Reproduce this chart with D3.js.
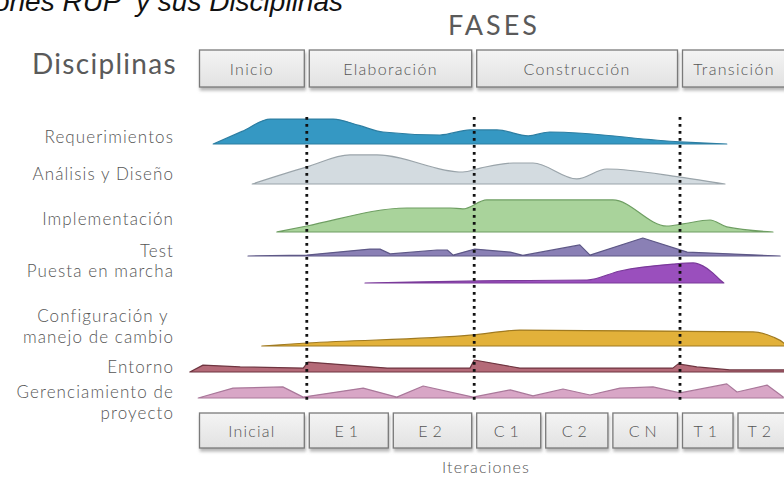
<!DOCTYPE html>
<html>
<head>
<meta charset="utf-8">
<script src="https://cdn.jsdelivr.net/npm/d3@7"></script>
<style>
  body { margin: 0; background: #fff; }
</style>
</head>
<body>
<div id="chart"></div>
<script>
// --- datos (tiempo 0..100, intensidad 0..10) ---
const disciplinas = ["Requerimientos", "Análisis y Diseño", "Implementación", "Test",
  "Puesta en marcha", "Configuración y \nmanejo de cambio", "Entorno", "Gerenciamiento de\nproyecto"];
const fases = ["Inicio", "Elaboración", "Construcción", "Transición"];
const iteraciones = ["Inicial", "E1", "E2", "C1", "C2", "CN", "T1", "T2"];
const hitos = [20.3, 48.2, 82.5];
const limitesFases = [2, 20.3, 48.2, 82.5, 100.5];
const limitesIter = [2, 20.3, 34.3, 48.2, 59.7, 70.9, 82.5, 91.75, 100.5];

const requerimientos = [[4.7,0],[9.5,4.2],[14.2,8.3],[24.7,8.3],[29,6.2],[33,4],[42.5,3],[47.5,4.7],[52,4.7],[57.2,2.7],[60.8,4],[82.5,0.7],[90.3,0]];
const analisis = [[11.2,0],[20.3,5.7],[27.5,9.7],[32,9.7],[46.3,4],[49.2,5.3],[54.7,7],[58,7],[65.3,1.7],[70.3,5],[82.5,2.3],[90,0]];
const implementacion = [[15.3,0],[20.3,2],[37,8],[44.2,8],[46.3,7.7],[50.3,10.7],[71.3,10.7],[80.3,2],[83,2.7],[87.5,4],[90.3,1.7],[98,0]];
const test = [[10.5,0],[20.3,0.3],[30.8,2.3],[32.5,2.3],[34.2,0.7],[42,2],[43.7,2],[44.7,0.3],[48.3,2.3],[54.2,1.3],[56.3,0.2],[65.8,3.7],[67.5,0.3],[76.3,6],[83.7,1.3],[99.2,0]];
const puesta = [[30,0],[37.5,0.3],[49.2,0.7],[67,1],[72.5,4],[81.3,6.3],[84.7,6.7],[86.3,5.7],[88,3.3],[89.2,1],[89.8,0]];
const configuracion = [[12.8,0],[20.3,1],[48,3.7],[55.8,5.3],[94.7,4.7],[98,3],[99.8,1],[100.3,0]];
const entorno = [[0.8,0],[3,2.3],[9.2,1.7],[19.7,1.3],[20.5,3.3],[33.7,1.3],[47.5,1.3],[48.2,4],[55.8,1.3],[81.3,1.3],[82.2,2.7],[85.3,1.7],[90.8,0.7],[100.3,0.7]];
const gerenciamiento = [[2.2,0],[8,3.3],[16.3,3.7],[19.7,0.3],[29.7,3.3],[35.3,0.3],[39.7,4],[48,0.3],[54.2,2.7],[58,0.7],[63,3],[67.5,1],[72.5,3.3],[78,3.7],[82.5,1.7],[90.3,4.7],[92,2],[97,4.3],[99.7,0.3]];
const perfiles = [requerimientos, analisis, implementacion, test, puesta, configuracion, entorno, gerenciamiento];

// --- layout y estilos ---
const width = 784, height = 479;
const baseFila = [144, 184, 232, 256, 283, 346, 372, 398];
const labelY = [143, 180, 225, 257, 277, 322, 373, 398];
const rellenos = ["#3598c3", "#d3dbe0", "#a9d39b", "#8a80b5", "#9a4fbd", "#e2b13a", "#b46a78", "#d8a6c6"];
const bordes = ["#2d7ea2", "#9aa4aa", "#6e9e62", "#5e5887", "#7a3a9a", "#a07a20", "#6e3540", "#a9789a"];
const curvas = [d3.curveMonotoneX, d3.curveMonotoneX, d3.curveMonotoneX, d3.curveLinear,
  d3.curveMonotoneX, d3.curveMonotoneX, d3.curveLinear, d3.curveLinear];
const fuente = "Lato, 'Open Sans', sans-serif";

const x = d3.scaleLinear().domain([0, 100]).range([185, 785]);
const h = d3.scaleLinear().domain([0, 10]).range([0, 30]);

const svg = d3.select("#chart").append("svg")
    .attr("width", width)
    .attr("height", height);

const defs = svg.append("defs");
const grad = defs.append("linearGradient").attr("id", "caja").attr("x1", 0).attr("y1", 0).attr("x2", 0).attr("y2", 1);
grad.append("stop").attr("offset", "0%").attr("stop-color", "#f4f4f4");
grad.append("stop").attr("offset", "100%").attr("stop-color", "#e2e2e2");
defs.append("filter").attr("id", "sombra").attr("x", "-10%").attr("y", "-20%").attr("width", "120%").attr("height", "160%")
    .append("feDropShadow").attr("dx", 1).attr("dy", 3).attr("stdDeviation", 1.8)
    .attr("flood-color", "#888").attr("flood-opacity", 0.6);

// titulo (cortado arriba como en el original)
svg.append("text")
    .attr("x", 343).attr("y", 11)
    .attr("text-anchor", "end")
    .attr("font-family", "'Liberation Sans', Arial, sans-serif")
    .attr("font-style", "italic")
    .attr("font-size", 28)
    .attr("fill", "#111")
    .attr("xml:space", "preserve")
    .text("Fases e Iteraciones RUP  y sus Disciplinas");

svg.append("text")
    .attr("x", 494).attr("y", 35)
    .attr("text-anchor", "middle")
    .attr("font-family", fuente)
    .attr("font-size", 27)
    .attr("letter-spacing", 3)
    .attr("fill", "#5a5a5a")
    .text("FASES");

svg.append("text")
    .attr("x", 32).attr("y", 74)
    .attr("font-family", fuente)
    .attr("font-size", 28)
    .attr("letter-spacing", 1.3)
    .attr("fill", "#5a5a5a")
    .text("Disciplinas");

// cajas de fases e iteraciones
function cajas(nombres, limites, y0, alto, texto) {
    let g = svg.append("g");
    let datos = nombres.map((n, i) => ({n: n, a: limites[i], b: limites[i + 1]}));
    g.selectAll("rect")
        .data(datos)
        .join("rect")
        .attr("x", d => x(d.a) + 2.5)
        .attr("y", y0)
        .attr("width", d => x(d.b) - x(d.a) - 5)
        .attr("height", alto)
        .attr("fill", "url(#caja)")
        .attr("stroke", "#7a7a7a")
        .attr("stroke-width", 1.3)
        .attr("filter", "url(#sombra)");
    g.selectAll("text")
        .data(datos)
        .join("text")
        .attr("x", d => (x(d.a) + x(d.b)) / 2)
        .attr("y", y0 + alto / 2 + 6)
        .attr("text-anchor", "middle")
        .attr("font-family", fuente)
        .attr("font-weight", 300)
        .attr("font-size", 16)
        .attr("letter-spacing", d => d.n.length <= 2 ? 5 : texto)
        .attr("fill", "#555")
        .text(d => d.n);
}
cajas(fases, limitesFases, 50, 37, 1.3);
cajas(iteraciones, limitesIter, 413, 35, 1.2);

// etiquetas de disciplinas
svg.append("g")
    .attr("font-family", fuente)
    .attr("font-weight", 300)
    .attr("font-size", 17)
    .attr("letter-spacing", 1.1)
    .attr("fill", "#555")
    .attr("text-anchor", "end")
    .selectAll("text")
    .data(disciplinas)
    .join("text")
    .attr("y", (d, i) => labelY[i])
    .each(function (d) {
        d.split("\n").forEach((linea, k) => {
            d3.select(this).append("tspan")
                .attr("x", 174)
                .attr("dy", k ? 21 : 0)
                .text(linea);
        });
    });

// curvas de esfuerzo
svg.append("g")
    .selectAll("path")
    .data(perfiles)
    .join("path")
    .attr("d", (d, i) => d3.area()
        .x(p => x(p[0]))
        .y0(baseFila[i])
        .y1(p => baseFila[i] - h(p[1]))
        .curve(curvas[i])(d))
    .attr("fill", (d, i) => rellenos[i])
    .attr("stroke", (d, i) => bordes[i])
    .attr("stroke-width", 1.2)
    .attr("stroke-linejoin", "round");

// lineas punteadas de hitos
svg.append("g")
    .selectAll("line")
    .data(hitos)
    .join("line")
    .attr("x1", d => x(d)).attr("x2", d => x(d))
    .attr("y1", 117).attr("y2", 402)
    .attr("stroke", "#111")
    .attr("stroke-width", 2.8)
    .attr("stroke-dasharray", "2.8 4.2");

svg.append("text")
    .attr("x", 486).attr("y", 473)
    .attr("text-anchor", "middle")
    .attr("font-family", fuente)
    .attr("font-weight", 300)
    .attr("font-size", 16)
    .attr("letter-spacing", 1.2)
    .attr("fill", "#555")
    .text("Iteraciones");
</script>
</body>
</html>
